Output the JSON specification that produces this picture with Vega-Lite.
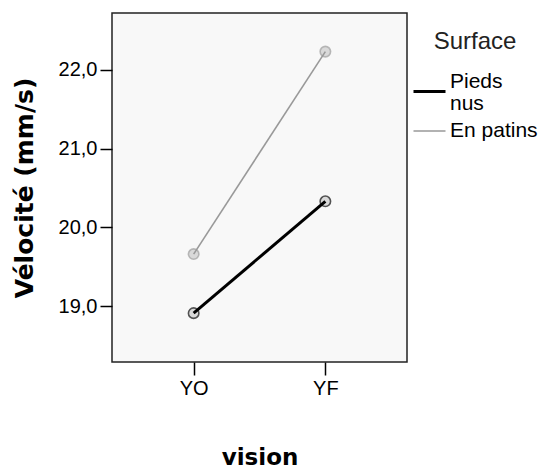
{
  "$schema": "https://vega.github.io/schema/vega-lite/v6.json",
  "width": 295,
  "height": 349,
  "autosize": "none",
  "padding": {"left": 112, "top": 13, "right": 133, "bottom": 108},
  "background": "white",
  "config": {
    "view": {"fill": "#f8f8f8", "stroke": "#222", "strokeWidth": 1.5},
    "font": "Liberation Sans"
  },
  "data": {
    "values": [
      {"vision": "YO", "Surface": "Pieds nus", "velocite": 18.91},
      {"vision": "YF", "Surface": "Pieds nus", "velocite": 20.33},
      {"vision": "YO", "Surface": "En patins", "velocite": 19.66},
      {"vision": "YF", "Surface": "En patins", "velocite": 22.23}
    ]
  },
  "encoding": {
    "x": {
      "field": "vision", "type": "nominal", "sort": ["YO", "YF"],
      "scale": {"type": "point", "padding": 0.62},
      "axis": {
        "title": "vision", "titleFont": "DejaVu Sans", "titleFontWeight": "bold", "titleFontSize": 23,
        "titleColor": "black", "titlePadding": 48,
        "labelFontSize": 20, "labelColor": "black", "labelAngle": 0, "labelPadding": 3,
        "tickSize": 13, "tickWidth": 1.5, "tickColor": "black", "domain": false, "grid": false
      }
    },
    "y": {
      "field": "velocite", "type": "quantitative",
      "scale": {"domain": [18.29, 22.72], "nice": false, "zero": false},
      "axis": {
        "title": "Vélocité (mm/s)", "titleFont": "DejaVu Sans", "titleFontWeight": "bold", "titleFontSize": 25,
        "titleColor": "black", "titlePadding": 21,
        "values": [19, 20, 21, 22],
        "labelExpr": "replace(format(datum.value, '.1f'), '.', ',')",
        "labelFontSize": 20, "labelColor": "black", "labelPadding": 3,
        "tickSize": 12, "tickWidth": 1.5, "tickColor": "black", "domain": false, "grid": false
      }
    },
    "color": {
      "field": "Surface", "type": "nominal",
      "scale": {"domain": ["Pieds nus", "En patins"], "range": ["#000000", "#999999"]},
      "legend": {
        "title": "Surface", "orient": "none", "legendX": 300, "legendY": 17,
        "titleFontSize": 24, "titleFontWeight": "normal", "titleColor": "#222",
        "titleAnchor": "middle", "titlePadding": 20,
        "labelFontSize": 21, "labelColor": "black", "labelOffset": 3,
        "symbolType": "stroke", "symbolSize": 1024,
        "labelExpr": "datum.label == 'Pieds nus' ? ['Pieds', 'nus'] : datum.label",
        "rowPadding": -2,
        "encode": {
          "labels": {"update": {"dy": {"signal": "datum.index === 0 ? -10 : 0"}, "lineHeight": {"value": 22}}}
        }
      }
    }
  },
  "layer": [
    {
      "mark": {"type": "point", "filled": false, "fill": "#d9d9d9", "fillOpacity": 1, "size": 110, "strokeWidth": 1.6, "strokeOpacity": 0.65, "opacity": 1}
    },
    {
      "mark": {"type": "line"},
      "encoding": {
        "strokeWidth": {
          "field": "Surface", "type": "nominal",
          "scale": {"domain": ["Pieds nus", "En patins"], "range": [3, 1.6]},
          "legend": {"title": "Surface"}
        }
      }
    }
  ]
}
